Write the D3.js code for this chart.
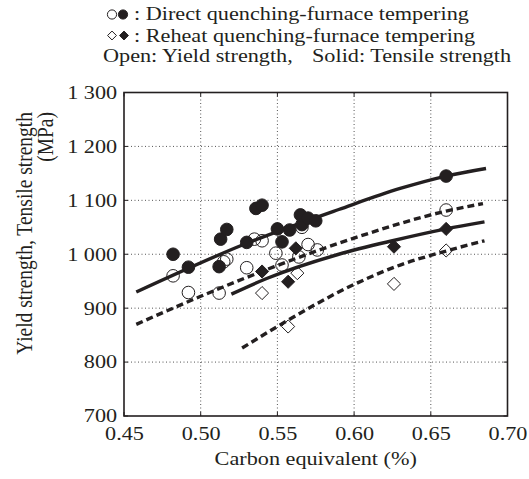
<!DOCTYPE html>
<html>
<head>
<meta charset="utf-8">
<script src="https://cdn.jsdelivr.net/npm/d3@7"></script>
<style>
body { margin: 0; background: #fff; }
text { font-family: "Liberation Serif", "Times New Roman", serif; fill: #231f20; }
</style>
</head>
<body>
<div id="chart"></div>
<script>
// ticks
var xTicks = [0.45, 0.50, 0.55, 0.60, 0.65, 0.70];
var xTickLabels = ['0.45', '0.50', '0.55', '0.60', '0.65', '0.70'];
var yTicks = [700, 800, 900, 1000, 1100, 1200, 1300];
var yTickLabels = ['700', '800', '900', '1 000', '1 100', '1 200', '1 300'];

// direct quenching, solid = tensile, open = yield  [CE, MPa]
var directTensile = [[0.482, 1000], [0.492, 976], [0.512, 977], [0.513, 1028], [0.517, 1046],
    [0.530, 1022], [0.536, 1085], [0.540, 1091], [0.550, 1047], [0.553, 1023], [0.558, 1045],
    [0.565, 1073], [0.566, 1055], [0.570, 1067], [0.575, 1062], [0.660, 1145]];
var directYield = [[0.482, 960], [0.492, 929], [0.512, 928], [0.515, 986], [0.517, 991],
    [0.530, 975], [0.535, 1028], [0.540, 1025], [0.549, 1002], [0.553, 980], [0.564, 995],
    [0.566, 1050], [0.570, 1018], [0.576, 1008], [0.660, 1082]];

// reheat quenching
var reheatTensile = [[0.540, 968], [0.557, 949], [0.562, 1011], [0.626, 1014], [0.660, 1047]];
var reheatYield = [[0.540, 928], [0.557, 866], [0.563, 965], [0.626, 945], [0.660, 1007]];

// regression curves
var directTensileCurve = [[0.458, 930], [0.528, 1018], [0.59, 1083], [0.63, 1122], [0.66, 1145], [0.686, 1159]];
var directYieldCurve = [[0.458, 870], [0.50, 922], [0.548, 977], [0.60, 1030], [0.66, 1080], [0.684, 1094]];
var reheatTensileCurve = [[0.52, 926], [0.543, 955], [0.59, 1000], [0.625, 1025], [0.66, 1047], [0.685, 1060]];
var reheatYieldCurve = [[0.527, 826], [0.55, 866], [0.60, 944], [0.63, 980], [0.66, 1006], [0.685, 1025]];

var W = 529, H = 479;
var m = {left: 124, right: 507.5, top: 92.5, bottom: 416};
var sx = 1.14;          // text in the figure is a bit wide
var fs = 19.5;

var svg = d3.select('#chart').append('svg').attr('width', W).attr('height', H);

var xScale = d3.scaleLinear().domain([0.45, 0.70]).range([m.left, m.right]);
var yScale = d3.scaleLinear().domain([700, 1300]).range([m.bottom, m.top]);

function label(x, y, str, anchor) {
    return svg.append('text')
        .attr('transform', `translate(${x},${y}) scale(${sx},1)`)
        .attr('text-anchor', anchor || 'start')
        .style('font-size', fs + 'px')
        .text(str);
}

// grid
var grid = svg.append('g').attr('stroke', '#555').attr('stroke-width', 1).attr('stroke-dasharray', '1,2.5');
grid.selectAll('.gx').data(xTicks.slice(1, -1)).enter().append('line')
    .attr('x1', d => xScale(d)).attr('x2', d => xScale(d))
    .attr('y1', m.top).attr('y2', m.bottom);
grid.selectAll('.gy').data(yTicks.slice(1, -1)).enter().append('line')
    .attr('x1', m.left).attr('x2', m.right)
    .attr('y1', d => yScale(d)).attr('y2', d => yScale(d));

// axes
var xAxis = d3.axisBottom(xScale).tickValues(xTicks).tickFormat((d, i) => xTickLabels[i]).tickSize(0).tickPadding(10);
var yAxis = d3.axisLeft(yScale).tickValues(yTicks).tickFormat((d, i) => yTickLabels[i]).tickSize(0).tickPadding(6);

var gx = svg.append('g').attr('transform', `translate(0,${m.bottom})`).call(xAxis);
var gy = svg.append('g').attr('transform', `translate(${m.left},0)`).call(yAxis);
[gx, gy].forEach(function(g) {
    g.select('.domain').remove();
    g.selectAll('text').style('font-size', fs + 'px')
        .style('font-family', '"Liberation Serif", serif').attr('fill', '#231f20');
});
gx.selectAll('.tick text').attr('transform', `scale(${sx},1)`);
gy.selectAll('.tick text').attr('transform', `scale(${sx},1)`).attr('dy', '0.3em');

// inner ticks
var tk = svg.append('g').attr('stroke', '#231f20').attr('stroke-width', 1);
tk.selectAll('.tb').data(xTicks).enter().append('line')
    .attr('x1', d => xScale(d)).attr('x2', d => xScale(d)).attr('y1', m.bottom).attr('y2', m.bottom - 4);
tk.selectAll('.tt').data(xTicks).enter().append('line')
    .attr('x1', d => xScale(d)).attr('x2', d => xScale(d)).attr('y1', m.top).attr('y2', m.top + 4);
tk.selectAll('.tl').data(yTicks).enter().append('line')
    .attr('x1', m.left).attr('x2', m.left + 4).attr('y1', d => yScale(d)).attr('y2', d => yScale(d));
tk.selectAll('.tr').data(yTicks).enter().append('line')
    .attr('x1', m.right).attr('x2', m.right - 4).attr('y1', d => yScale(d)).attr('y2', d => yScale(d));

svg.append('rect')
    .attr('x', m.left).attr('y', m.top)
    .attr('width', m.right - m.left).attr('height', m.bottom - m.top)
    .attr('fill', 'none').attr('stroke', '#231f20').attr('stroke-width', 1.6);

// curves
var line = d3.line()
    .x(d => xScale(d[0]))
    .y(d => yScale(d[1]))
    .curve(d3.curveMonotoneX);

[[directTensileCurve, null], [directYieldCurve, '7,4'],
 [reheatTensileCurve, null], [reheatYieldCurve, '7,4']].forEach(function(c) {
    svg.append('path')
        .datum(c[0])
        .attr('d', line)
        .attr('fill', 'none')
        .attr('stroke', '#231f20')
        .attr('stroke-width', 3.4)
        .attr('stroke-dasharray', c[1]);
});

// markers
var diamond = d3.symbol().type(d3.symbolDiamond2);
function circles(data, filled) {
    svg.append('g').selectAll('circle').data(data).enter().append('circle')
        .attr('cx', d => xScale(d[0])).attr('cy', d => yScale(d[1]))
        .attr('r', 6.3)
        .attr('fill', filled ? '#231f20' : 'none')
        .attr('stroke', '#231f20').attr('stroke-width', 1);
}
function diamonds(data, filled) {
    svg.append('g').selectAll('path').data(data).enter().append('path')
        .attr('d', diamond.size(110))
        .attr('transform', d => `translate(${xScale(d[0])},${yScale(d[1])})`)
        .attr('fill', filled ? '#231f20' : 'none')
        .attr('stroke', '#231f20').attr('stroke-width', 1);
}
circles(directYield, false);
diamonds(reheatYield, false);
circles(directTensile, true);
diamonds(reheatTensile, true);

// axis titles
label((m.left + m.right) / 2, 465, 'Carbon equivalent (%)', 'middle');
svg.append('text')
    .attr('transform', `translate(32,112) scale(${sx},1) rotate(-90)`)
    .attr('text-anchor', 'end').style('font-size', fs + 'px')
    .text('Yield strength, Tensile strength');
svg.append('text')
    .attr('transform', `translate(53,112) scale(${sx},1) rotate(-90)`)
    .attr('text-anchor', 'end').style('font-size', fs + 'px')
    .text('(MPa)');

// legend
var lg = svg.append('g').attr('stroke', '#231f20').attr('stroke-width', 1);
lg.append('circle').attr('cx', 112).attr('cy', 14.5).attr('r', 4.6).attr('fill', 'none');
lg.append('circle').attr('cx', 123).attr('cy', 14.5).attr('r', 4.6).attr('fill', '#231f20');
lg.append('path').attr('d', diamond.size(50)).attr('transform', 'translate(112,35.5)').attr('fill', 'none');
lg.append('path').attr('d', diamond.size(50)).attr('transform', 'translate(124,35.5)').attr('fill', '#231f20');
label(134, 20, ': Direct quenching-furnace tempering');
label(134, 41.5, ': Reheat quenching-furnace tempering');
label(103, 61.5, 'Open: Yield strength,');
label(312, 61.5, 'Solid: Tensile strength');
</script>
</body>
</html>
